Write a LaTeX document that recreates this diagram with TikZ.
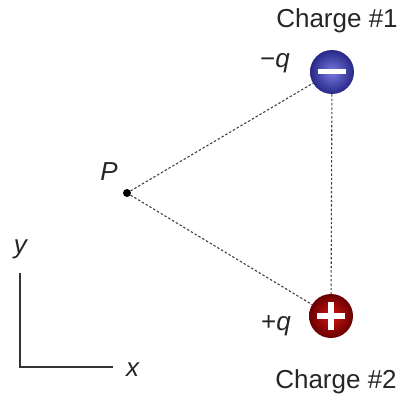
\documentclass[tikz,border=0pt]{standalone}
\usepackage{fontspec}
\setmainfont{Liberation Sans}
\usepackage{tikz}

\definecolor{azulClaro}{RGB}{120,120,225}
\definecolor{azulOscuro}{RGB}{40,40,135}
\definecolor{rojoClaro}{RGB}{215,20,20}
\definecolor{rojoOscuro}{RGB}{105,0,0}

\begin{document}
\begin{tikzpicture}[
    x=1pt, y=-1pt,
    % Estilo para las cargas
    carga/.style={
        circle,
        draw=none,
        minimum size=44pt,
        inner sep=0pt,
        shading=radial
    },
    % Estilo para las etiquetas de texto
    etiqueta/.style={
        font=\fontsize{26}{29}\selectfont,
        inner sep=0pt,
        text=black!85
    },
    % Estilo para las lineas punteadas
    lineaPunteada/.style={
        draw=black!75,
        line width=1.1pt,
        dash pattern=on 2.4pt off 2pt
    },
    % Estilo para los ejes
    eje/.style={
        draw=black!80,
        line width=1.4pt
    }
]
    \useasboundingbox (0,0) rectangle (403,401);

    % --- CARGAS ---
    \node[carga, inner color=azulClaro, outer color=azulOscuro] (q1) at (332,72) {};
    \node[carga, inner color=rojoClaro, outer color=rojoOscuro] (q2) at (331,316) {};

    % signos
    \fill[white] ([xshift=-14pt,yshift=-2.5pt]q1.center) rectangle ([xshift=14pt,yshift=2.5pt]q1.center);
    \fill[white] ([xshift=-14pt,yshift=-2.8pt]q2.center) rectangle ([xshift=14pt,yshift=2.8pt]q2.center);
    \fill[white] ([xshift=-2.8pt,yshift=-14pt]q2.center) rectangle ([xshift=2.8pt,yshift=14pt]q2.center);

    % --- PUNTO P ---
    \node[circle, fill=black, inner sep=0pt, minimum size=8pt] (P) at (127,193) {};

    % --- LINEAS PUNTEADAS ---
    \draw[lineaPunteada] (P) -- (q1);
    \draw[lineaPunteada] (P) -- (q2);
    \draw[lineaPunteada] (q1) -- (q2);

    % --- ETIQUETAS ---
    \node[etiqueta] (c1) at (337,21) {Charge \#1};
    \node[etiqueta] (c2) at (336,382) {Charge \#2};
    \node[etiqueta] (mq) at (275,63) {−\textit{q}};
    \node[etiqueta] (pq) at (276,326) {+\textit{q}};
    \node[etiqueta] (lP) at (109,172) {\textit{P}};

    % --- EJES ---
    \coordinate (O) at (20,367);
    \coordinate (yTop) at (20,273);
    \coordinate (xEnd) at (113,367);
    \draw[eje] (yTop) -- (O) -- (xEnd);
    \node[etiqueta] (ly) at (21,249) {\textit{y}};
    \node[etiqueta] (lx) at (133,370) {\textit{x}};

\end{tikzpicture}
\end{document}
